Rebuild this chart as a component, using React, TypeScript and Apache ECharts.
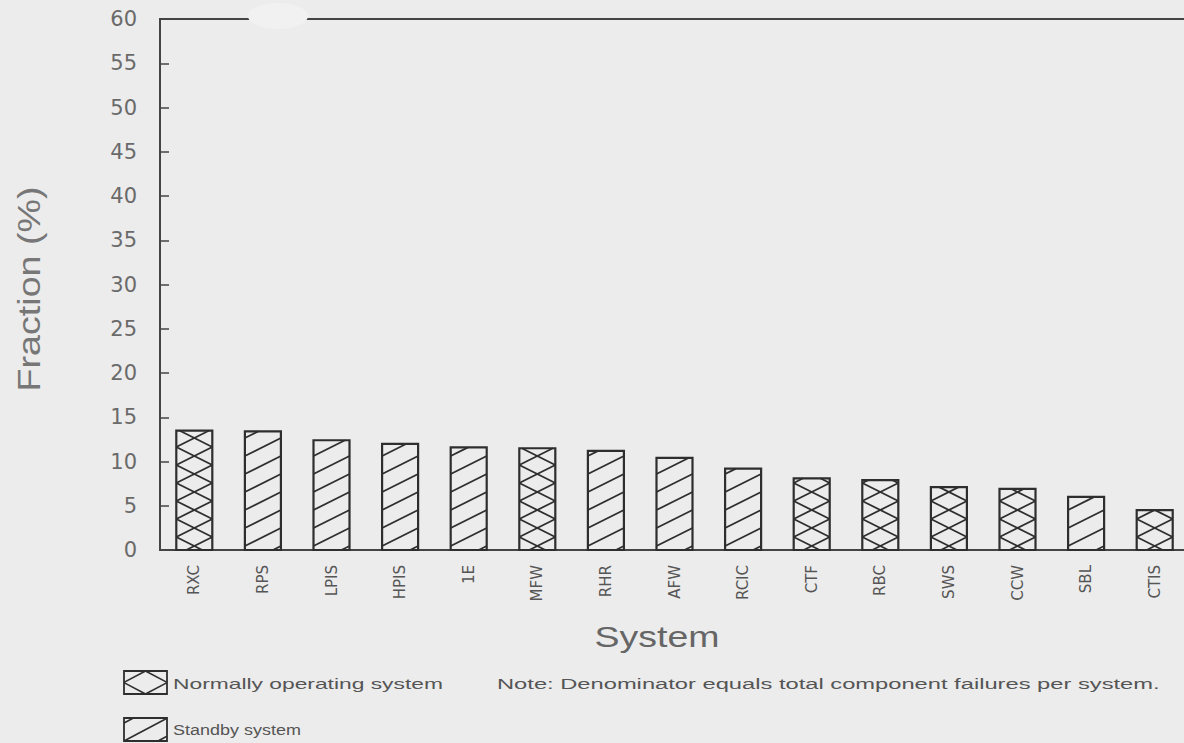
import React, { useEffect, useRef } from "react";
import * as echarts from "echarts";

const categories = ["RXC", "RPS", "LPIS", "HPIS", "1E", "MFW", "RHR", "AFW", "RCIC", "CTF", "RBC", "SWS", "CCW", "SBL", "CTIS"];
const values = [13.5, 13.4, 12.4, 12.0, 11.6, 11.5, 11.2, 10.4, 9.2, 8.1, 7.9, 7.1, 6.9, 6.0, 4.5];
// N = normally operating system, S = standby system
const systemTypes = ["N", "S", "S", "S", "S", "N", "S", "S", "S", "N", "N", "N", "N", "S", "N"];
const yTicks = { min: 0, max: 60, interval: 5 };
const legendLabels = ["Normally operating system", "Standby system"];
const noteText = "Note: Denominator equals total component failures per system.";
const xName = "System";
const yName = "Fraction (%)";

const BG = "#ececec";
const INK = "#2e2e2e";

type Seg = [number, number, number, number];

function family(xl: number, xr: number, yt: number, yb: number, m: number, xa: number, ya: number, sp: number): Seg[] {
  const segs: Seg[] = [];
  for (let k = -80; k <= 80; k++) {
    const b = ya + k * sp;
    const xAtT = xa + (yt - b) / m;
    const xAtB = xa + (yb - b) / m;
    const xlo = Math.max(xl, Math.min(xAtT, xAtB));
    const xhi = Math.min(xr, Math.max(xAtT, xAtB));
    if (xhi - xlo > 0.5) {
      segs.push([xlo, b + m * (xlo - xa), xhi, b + m * (xhi - xa)]);
    }
  }
  return segs;
}

function hatch(kind: string, xl: number, xr: number, yt: number, yb: number, sp: number, m: number, phase: number): Seg[] {
  if (kind === "N") {
    const xc = (xl + xr) / 2;
    return [...family(xl, xr, yt, yb, m, xc, yb - phase, sp), ...family(xl, xr, yt, yb, -m, xc, yb - phase, sp)];
  }
  return family(xl, xr, yt, yb, -m, xl, yb - phase, sp);
}

function segEls(segs: Seg[], lw: number) {
  return segs.map((s) => ({
    type: "line",
    shape: { x1: s[0], y1: s[1], x2: s[2], y2: s[3] },
    style: { stroke: INK, lineWidth: lw },
    silent: true,
  }));
}

let measureCtx: CanvasRenderingContext2D | null = null;
function fitScale(text: string, size: number, family: string, target: number): number {
  if (!measureCtx) measureCtx = document.createElement("canvas").getContext("2d");
  if (!measureCtx) return 1;
  measureCtx.font = `${size}px ${family}`;
  const w = measureCtx.measureText(text).width;
  return w > 0 ? target / w : 1;
}

export default function App() {
  const ref = useRef<HTMLDivElement>(null);
  useEffect(() => {
    if (!ref.current) return;
    const chart = echarts.init(ref.current, undefined, { renderer: "svg" });
    const legendFont = "Liberation Sans";
    const icon1 = { xl: 124, xr: 167, yt: 671, yb: 694 };
    const icon2 = { xl: 124, xr: 167, yt: 718, yb: 741 };
    const graphic: any[] = [
      {
        type: "ellipse",
        shape: { cx: 278, cy: 16, rx: 30, ry: 13 },
        style: { fill: "#f1f1f1" },
        z: 100,
      },
      {
        type: "rect",
        shape: { x: icon1.xl, y: icon1.yt, width: icon1.xr - icon1.xl, height: icon1.yb - icon1.yt },
        style: { fill: BG, stroke: INK, lineWidth: 1.8 },
      },
      ...segEls(hatch("N", icon1.xl, icon1.xr, icon1.yt, icon1.yb, 23, 0.53, 0), 1.6),
      {
        type: "rect",
        shape: { x: icon2.xl, y: icon2.yt, width: icon2.xr - icon2.xl, height: icon2.yb - icon2.yt },
        style: { fill: BG, stroke: INK, lineWidth: 1.8 },
      },
      ...segEls(hatch("S", icon2.xl, icon2.xr, icon2.yt, icon2.yb, 18, 0.53, 0), 1.6),
      {
        type: "text",
        x: 173,
        y: 684,
        scaleX: fitScale(legendLabels[0], 15, legendFont, 270),
        style: { text: legendLabels[0], fontSize: 15, fontFamily: legendFont, fill: "#555", align: "left", verticalAlign: "middle" },
      },
      {
        type: "text",
        x: 173,
        y: 730,
        scaleX: fitScale(legendLabels[1], 15, legendFont, 128),
        style: { text: legendLabels[1], fontSize: 15, fontFamily: legendFont, fill: "#555", align: "left", verticalAlign: "middle" },
      },
      {
        type: "text",
        x: 497,
        y: 684,
        scaleX: fitScale(noteText, 15, legendFont, 663),
        style: { text: noteText, fontSize: 15, fontFamily: legendFont, fill: "#555", align: "left", verticalAlign: "middle" },
      },
      {
        type: "text",
        x: 657,
        y: 637,
        scaleX: fitScale(xName, 29, legendFont, 125),
        style: { text: xName, fontSize: 29, fontFamily: legendFont, fill: "#666", align: "center", verticalAlign: "middle" },
      },
      {
        type: "text",
        x: 29,
        y: 289,
        rotation: Math.PI / 2,
        scaleX: fitScale(yName, 31, legendFont, 205),
        style: { text: yName, fontSize: 31, fontFamily: legendFont, fill: "#777", align: "center", verticalAlign: "middle" },
      },
    ];

    const option: any = {
      animation: false,
      backgroundColor: BG,
      grid: {
        left: 160,
        top: 19,
        bottom: 193,
        right: 11,
        show: true,
        borderColor: "#444",
        borderWidth: 2,
        backgroundColor: "transparent",
      },
      xAxis: {
        type: "category",
        data: categories,
        boundaryGap: true,
        axisLine: { show: true, lineStyle: { color: "#444", width: 2 } },
        axisTick: { show: false },
        axisLabel: { rotate: 90, fontSize: 15, color: "#555", margin: 15, fontFamily: "DejaVu Sans" },
      },
      yAxis: {
        type: "value",
        min: yTicks.min,
        max: yTicks.max,
        interval: yTicks.interval,
        axisLine: { show: true, lineStyle: { color: "#444", width: 2 } },
        axisTick: { show: true, inside: true, length: 9, lineStyle: { color: "#444", width: 1.5 } },
        axisLabel: { fontSize: 21, color: "#6a6a6a", margin: 23, fontFamily: "DejaVu Sans" },
        splitLine: { show: false },
      },
      series: [
        {
          type: "custom",
          encode: { x: 0, y: 1 },
          data: values.map((v, i) => [i, v]),
          renderItem: (params: any, api: any) => {
            const idx = api.value(0);
            const v = api.value(1);
            const top = api.coord([idx, v]);
            const base = api.coord([idx, 0]);
            const bw = api.size([1, 0])[0] * 0.525;
            const xl = top[0] - bw / 2;
            const xr = top[0] + bw / 2;
            const yt = top[1];
            const yb = base[1];
            const segs = hatch(systemTypes[idx], xl, xr, yt, yb, 18, 0.5, 4);
            return {
              type: "group",
              children: [
                {
                  type: "rect",
                  shape: { x: xl, y: yt, width: bw, height: yb - yt },
                  style: { fill: BG, stroke: "none" },
                },
                ...segEls(segs, 1.8),
                {
                  type: "rect",
                  shape: { x: xl, y: yt, width: bw, height: yb - yt },
                  style: { fill: "none", stroke: INK, lineWidth: 2.2 },
                },
              ],
            };
          },
        },
      ],
      graphic,
    };
    chart.setOption(option);
    return () => chart.dispose();
  }, []);
  return <div ref={ref} style={{ position: "fixed", left: 0, top: 0, width: 1200, height: 743 }} />;
}
